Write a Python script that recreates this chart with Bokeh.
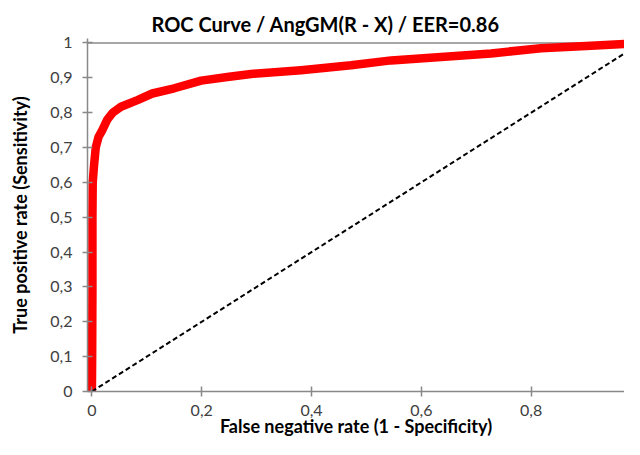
from bokeh.plotting import figure
from bokeh.models import Range1d, FixedTicker, Span, Title
from bokeh.embed import file_html
from bokeh.resources import INLINE

title_text = "ROC Curve / AngGM(R - X) / EER=0.86"
x_label = "False negative rate (1 - Specificity)"
y_label = "True positive rate (Sensitivity)"

# ROC curve
fpr = [0.0, 0.0005, 0.001, 0.001, 0.0015, 0.004, 0.007, 0.012, 0.019, 0.028, 0.038,
       0.053, 0.083, 0.110, 0.150, 0.199, 0.250, 0.290, 0.381, 0.472, 0.545,
       0.636, 0.727, 0.818, 0.909, 1.0]
tpr = [0.0, 0.10, 0.30, 0.50, 0.60, 0.65, 0.70, 0.73, 0.75, 0.78, 0.80,
       0.817, 0.836, 0.855, 0.870, 0.892, 0.903, 0.911, 0.922, 0.936, 0.950,
       0.960, 0.970, 0.985, 0.992, 1.0]

diag_x = [0.0, 1.0]
diag_y = [0.0, 1.0]

x_ticks = [0, 0.2, 0.4, 0.6, 0.8, 1.0]
x_tick_labels = ["0", "0,2", "0,4", "0,6", "0,8", "1"]
y_ticks = [0, 0.1, 0.2, 0.3, 0.4, 0.5, 0.6, 0.7, 0.8, 0.9, 1.0]
y_tick_labels = ["0", "0,1", "0,2", "0,3", "0,4", "0,5", "0,6", "0,7", "0,8", "0,9", "1"]

AXIS_GREY = "#898989"
TEXT_GREY = "#404040"

p = figure(width=624, height=439, output_backend="svg", toolbar_location=None,
           x_range=Range1d(-0.008, 0.970), y_range=Range1d(0, 1.0128),
           min_border_left=87, min_border_right=0, min_border_top=38, min_border_bottom=45)

p.title = Title(text=title_text, align="left", offset=64, text_font="Lato",
                text_font_size="20px", text_font_style="bold", text_color="black", standoff=5)

p.outline_line_color = None
p.xgrid.visible = False
p.ygrid.visible = False

top_line = Span(location=1.0, dimension="width", line_color=AXIS_GREY, line_width=1.5, level="underlay")
p.add_layout(top_line)

p.line(fpr, tpr, line_color="#FF0000", line_width=8.5, line_join="round", line_cap="round")
p.line(diag_x, diag_y, line_color="black", line_width=2, line_dash="5 3")

for ax in (p.xaxis[0], p.yaxis[0]):
    ax.axis_line_color = AXIS_GREY
    ax.axis_line_width = 1.5
    ax.major_tick_line_color = AXIS_GREY
    ax.major_tick_line_width = 1.5
    ax.major_tick_in = 5
    ax.major_tick_out = 5
    ax.minor_tick_line_color = None
    ax.major_label_text_font = "Lato"
    ax.major_label_text_font_size = "16px"
    ax.major_label_text_color = TEXT_GREY
    ax.major_label_text_line_height = 1.0
    ax.axis_label_text_font = "Lato"
    ax.axis_label_text_font_size = "18px"
    ax.axis_label_text_font_style = "bold"
    ax.axis_label_text_color = "black"
    ax.axis_label_text_line_height = 1.0

p.xaxis.ticker = FixedTicker(ticks=x_ticks)
p.xaxis.major_label_overrides = dict(zip(x_ticks, x_tick_labels))
p.xaxis.major_label_standoff = 8
p.xaxis.axis_label = x_label
p.xaxis.axis_label_standoff = -4

p.yaxis.ticker = FixedTicker(ticks=y_ticks)
p.yaxis.major_label_overrides = dict(zip(y_ticks, y_tick_labels))
p.yaxis.major_label_standoff = 10
p.yaxis.axis_label = y_label
p.yaxis.axis_label_standoff = 16

open("out.html", "w").write(file_html(p, INLINE))
